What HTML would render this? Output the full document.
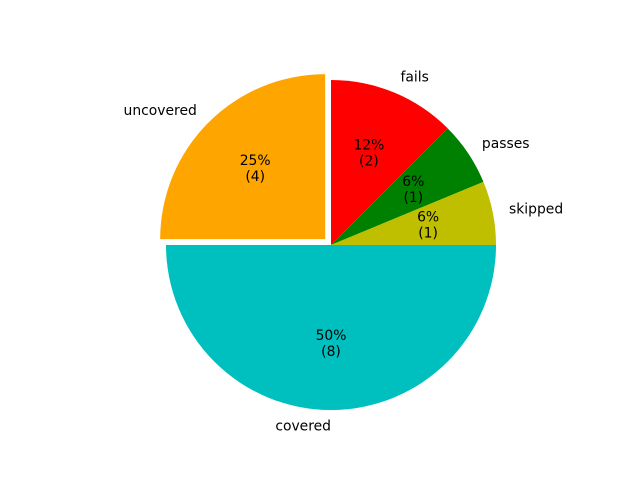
<!DOCTYPE html>
<html><head><meta charset="utf-8"><style>
html,body{margin:0;padding:0;background:#fff;}
svg text{font-family:"DejaVu Sans","Liberation Sans",sans-serif;font-size:13.9px;fill:#000;}
</style></head><body>
<svg id="chart" width="640" height="480" viewBox="0 0 640 480"></svg>
<script>
const categories = ["fails","passes","skipped","covered","uncovered"];
const values = [2,1,1,8,4];
const colors = ["#ff0000","#008000","#bfbf00","#00bfbf","#ffa500"];
const explode = [0,0,0,0,0.05];

const svg = document.getElementById('chart');
const NS = 'http://www.w3.org/2000/svg';
const cx = 331, cy = 245, R = 165;
const total = values.reduce((a,b)=>a+b,0);
function roundHalfEven(x){ const f=Math.floor(x), d=x-f; if(Math.abs(d-0.5)<1e-9) return f%2===0?f:f+1; return Math.round(x); }
let ang = 90;
function pt(a, r, ox, oy){ const t=a*Math.PI/180; return [ox + r*Math.cos(t), oy - r*Math.sin(t)]; }
values.forEach((v,i)=>{
  const sweep = v/total*360;
  const a0 = ang, a1 = ang - sweep, mid = (a0+a1)/2;
  const [ox, oy] = pt(mid, explode[i]*R, cx, cy);
  const p0 = pt(a0, R, ox, oy), p1 = pt(a1, R, ox, oy);
  const large = sweep > 180 ? 1 : 0;
  const path = document.createElementNS(NS,'path');
  path.setAttribute('d', `M${ox},${oy} L${p0[0]},${p0[1]} A${R},${R} 0 ${large} 1 ${p1[0]},${p1[1]} Z`);
  path.setAttribute('fill', colors[i]);
  
  
  svg.appendChild(path);

  const lp = pt(mid, 1.1*R, ox, oy);
  const lab = document.createElementNS(NS,'text');
  lab.setAttribute('x', lp[0]); lab.setAttribute('y', lp[1]);
  lab.setAttribute('text-anchor', Math.cos(mid*Math.PI/180) > 1e-9 ? 'start' : 'end');
  lab.setAttribute('dominant-baseline', 'central');
  lab.textContent = categories[i];
  
  
  svg.appendChild(lab);

  const pp = pt(mid, 0.6*R, ox, oy);
  const pct = document.createElementNS(NS,'text');
  pct.setAttribute('x', pp[0]); pct.setAttribute('y', pp[1]-8);
  pct.setAttribute('text-anchor', 'middle');
  pct.setAttribute('dominant-baseline', 'central');
  
  
  const t1 = document.createElementNS(NS,'tspan');
  t1.setAttribute('x', pp[0]);
  t1.textContent = roundHalfEven(v/total*100) + '%';
  const t2 = document.createElementNS(NS,'tspan');
  t2.setAttribute('x', pp[0]); t2.setAttribute('dy', 16);
  t2.textContent = '(' + v + ')';
  pct.appendChild(t1); pct.appendChild(t2);
  svg.appendChild(pct);
  ang = a1;
});
</script>
</body></html>
